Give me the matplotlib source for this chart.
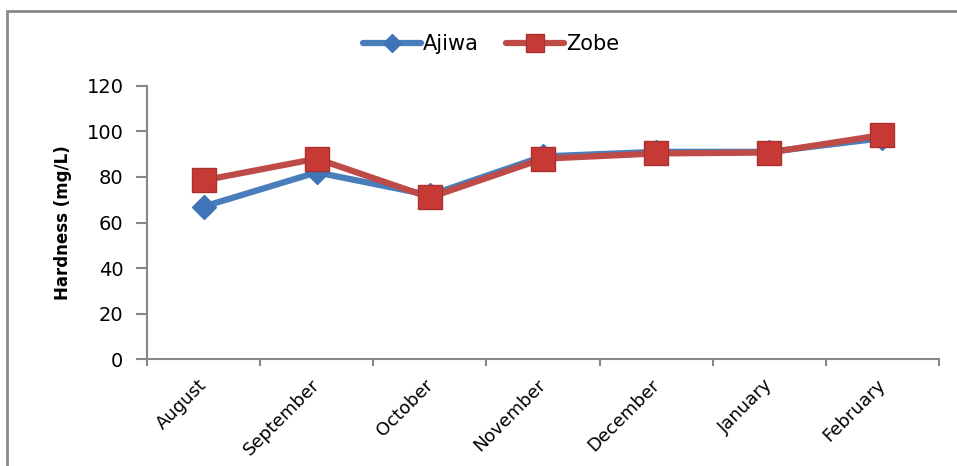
import matplotlib.pyplot as plt
import matplotlib.transforms as mtransforms
import numpy as np
from matplotlib.patches import Rectangle

months = ["August", "September", "October", "November", "December", "January", "February"]
ajiwa = [67, 82, 72, 89, 91, 91, 97]
zobe = [78.5, 88, 71, 88, 90.3, 90.7, 98.4]

plt.rcParams['font.family'] = ['Verdana', 'DejaVu Sans']

fig = plt.figure(figsize=(9.57, 4.66), dpi=100)
ax = fig.add_axes([0.1536, 0.229, 0.8276, 0.587])

x = np.arange(len(months))
ax.plot(x, ajiwa, color='#4A7EBB', lw=4.5, marker='D', ms=12,
        mfc='#3F75B8', mec='#3F75B8', label='Ajiwa', solid_capstyle='round')
ax.plot(x, zobe, color='#BE4B48', lw=4.5, marker='s', ms=17,
        mfc='#C63935', mec='#A9322F', mew=1, label='Zobe', solid_capstyle='round')

ax.set_xlim(-0.5, len(months) - 0.5)
ax.set_ylim(0, 120)
ax.set_yticks(range(0, 121, 20))
ax.set_xticks(x)
ax.set_xticklabels(months, rotation=45, ha='right', va='top', rotation_mode='anchor', fontsize=13)
ax.set_xticks(np.arange(-0.5, len(months)), minor=True)
ax.tick_params(axis='x', which='major', length=0, pad=12)
ax.tick_params(axis='x', which='minor', length=5, color='#878787', width=1.5)
ax.tick_params(axis='y', length=8, color='#878787', width=1.5, labelsize=14, pad=9)

# nudge month labels a little to the left
shift = mtransforms.ScaledTranslation(-6 / 100, 0, fig.dpi_scale_trans)
for lbl in ax.get_xticklabels():
    lbl.set_transform(lbl.get_transform() + shift)

for s in ['top', 'right']:
    ax.spines[s].set_visible(False)
for s in ['left', 'bottom']:
    ax.spines[s].set_color('#878787')
    ax.spines[s].set_linewidth(1.5)

ax.set_ylabel('Hardness (mg/L)', fontsize=12, fontweight='bold', labelpad=10)

ax.legend(loc='center', bbox_to_anchor=(0.513, 0.905), bbox_transform=fig.transFigure,
          ncol=2, frameon=False, fontsize=15, handlelength=2.8, columnspacing=1.27,
          handletextpad=0.1, markerscale=0.75)

fig.patches.append(Rectangle((7 / 957, -0.1), 1.2, 0.1 + (466 - 11) / 466,
                             transform=fig.transFigure, fill=False,
                             edgecolor='#8A8A8A', lw=2))

fig.savefig('out.png', dpi=100)
